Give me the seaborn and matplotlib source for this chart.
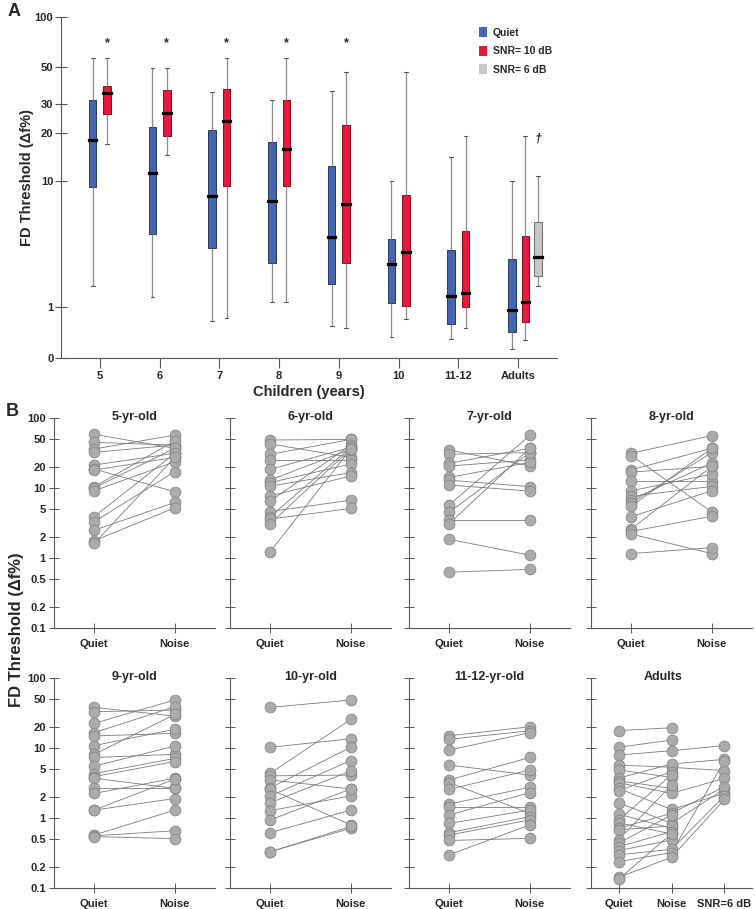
import numpy as np
import pandas as pd
import matplotlib
matplotlib.use("Agg")
import matplotlib.pyplot as plt
import matplotlib.colors as mcolors
from matplotlib.patches import Patch
from matplotlib.ticker import NullLocator
import seaborn as sns

sns.set_theme(style="white")
plt.rcParams["font.family"] = ["Liberation Sans", "DejaVu Sans"]
plt.rcParams["font.weight"] = "bold"

# ---------------- Panel A data (box summaries) ----------------
groups = ["5", "6", "7", "8", "9", "10", "11-12", "Adults"]
conditions = ["Quiet", "SNR= 10 dB", "SNR= 6 dB"]

quiet_lo = [1.66, 1.28, 0.65, 1.15, 0.555, 0.33, 0.29, 0.13]
quiet_q1 = [9.1, 4.34, 3.42, 2.61, 1.73, 1.10, 0.58, 0.43]
quiet_med = [18.1, 11.2, 8.0, 7.4, 4.15, 2.56, 1.33, 0.92]
quiet_q3 = [31.9, 21.8, 21.0, 17.5, 12.4, 3.99, 3.30, 2.81]
quiet_hi = [56.6, 49.3, 35.4, 31.8, 36.0, 9.9, 14.2, 9.9]

snr10_lo = [17.2, 14.6, 0.72, 1.15, 0.51, 0.71, 0.50, 0.275]
snr10_q1 = [26.3, 19.2, 9.2, 9.2, 2.61, 1.03, 1.00, 0.64]
snr10_med = [34.9, 26.4, 23.8, 16.0, 7.05, 3.2, 1.40, 1.15]
snr10_q3 = [38.8, 36.5, 36.9, 31.9, 22.3, 8.1, 4.59, 4.22]
snr10_hi = [56.6, 49.3, 56.6, 56.6, 46.9, 46.9, 19.2, 19.1]

nan = np.nan
snr6_lo = [nan, nan, nan, nan, nan, nan, nan, 1.66]
snr6_q1 = [nan, nan, nan, nan, nan, nan, nan, 2.03]
snr6_med = [nan, nan, nan, nan, nan, nan, nan, 2.93]
snr6_q3 = [nan, nan, nan, nan, nan, nan, nan, 5.34]
snr6_hi = [nan, nan, nan, nan, nan, nan, nan, 10.7]

sig_groups = ["5", "6", "7", "8", "9"]   # '*'
dagger_group = "Adults"                   # '†'

yticks_A = [0, 1, 10, 20, 30, 50, 100]

# ---------------- Panel B data (individual thresholds, paired) ----------------
q5 = [57.9, 44.5, 35.8, 32.1, 21.2, 18.6, 18.0, 10.4, 10.0, 9.1, 3.9, 3.3, 2.5, 1.77, 1.62]
n5 = [36.6, 40.8, 56.6, 40.8, 31.1, 8.8, 27.2, 46.5, 36.6, 23.6, 31.1, 17.0, 6.2, 5.2, 27.2]

q6 = [48.1, 42.2, 30.1, 25.0, 18.4, 12.9, 11.9, 10.6, 7.7, 6.5, 4.6, 3.9, 3.6, 3.1, 1.24]
n6 = [49.1, 27.2, 49.1, 25.0, 37.8, 35.8, 21.9, 16.5, 14.8, 40.8, 6.7, 37.8, 5.1, 35.8, 35.8]

q7 = [34.6, 30.1, 22.4, 20.5, 14.1, 12.9, 11.0, 5.7, 4.5, 3.5, 3.1, 1.85, 0.63]
n7 = [20.5, 31.8, 36.6, 25.0, 23.1, 10.4, 9.0, 56.0, 31.8, 3.5, 36.6, 1.1, 0.69]

q8 = [31.2, 28.9, 18.1, 16.8, 12.4, 9.1, 7.6, 6.8, 6.1, 5.5, 3.9, 2.6, 2.4, 2.2, 1.16]
n8 = [55.6, 4.55, 36.7, 20.2, 12.4, 15.7, 10.5, 22.5, 31.9, 36.7, 9.1, 20.2, 3.95, 1.16, 1.41]

q9 = [37.8, 32.8, 22.4, 16.5, 14.8, 10.8, 8.1, 7.3, 5.5, 4.3, 3.9, 3.7, 2.65, 2.25, 1.3, 1.3, 0.575, 0.56, 0.545]
n9 = [28.4, 34.6, 48.1, 38.6, 16.1, 18.4, 30.0, 8.1, 10.6, 7.1, 6.4, 2.65, 2.65, 3.7, 1.9, 3.6, 1.3, 0.66, 0.51]

q10 = [37.8, 10.2, 4.34, 4.0, 3.5, 2.7, 2.57, 2.07, 1.66, 1.28, 0.94, 0.62, 0.333, 0.33]
n10 = [48.1, 13.5, 25.5, 4.1, 2.6, 10.2, 0.80, 6.6, 4.7, 2.07, 2.6, 1.30, 0.715, 0.76]

q11 = [14.9, 13.3, 9.3, 5.7, 3.5, 3.2, 2.57, 1.59, 1.46, 1.11, 0.84, 0.62, 0.575, 0.48, 0.30]
n11 = [20.0, 17.5, 16.5, 4.1, 7.3, 1.17, 4.85, 2.74, 1.46, 2.30, 1.30, 1.05, 0.94, 0.515, 0.80]

qa = [17.6, 10.2, 7.9, 5.7, 4.85, 3.7, 3.4, 3.2, 2.65, 2.46, 1.66, 1.14, 0.94, 0.86,
      0.715, 0.68, 0.49, 0.44, 0.39, 0.344, 0.30, 0.24, 0.143, 0.134]
na = [19.4, 12.95, 9.13, 5.29, 3.81, 5.9, 2.65, 2.25, 1.33, 4.59, 0.84, 0.715, 4.11, 0.594,
      1.17, 0.772, 2.96, 1.107, 0.641, 0.488, 0.359, 0.322, 0.276, 0.6]
sa = [nan, nan, 10.8, 4.74, nan, 6.88, nan, 3.69, 2.25, nan, 2.6, nan, nan, nan,
      2.81, nan, nan, nan, nan, nan, 2.07, 6.58, 1.85, nan]

panelB = [
    ("5-yr-old", ["Quiet", "Noise"], [q5, n5]),
    ("6-yr-old", ["Quiet", "Noise"], [q6, n6]),
    ("7-yr-old", ["Quiet", "Noise"], [q7, n7]),
    ("8-yr-old", ["Quiet", "Noise"], [q8, n8]),
    ("9-yr-old", ["Quiet", "Noise"], [q9, n9]),
    ("10-yr-old", ["Quiet", "Noise"], [q10, n10]),
    ("11-12-yr-old", ["Quiet", "Noise"], [q11, n11]),
    ("Adults", ["Quiet", "Noise", "SNR=6 dB"], [qa, na, sa]),
]
yticks_B = [0.1, 0.2, 0.5, 1, 2, 5, 10, 20, 50, 100]
yticklabels_B = ["0.1", "0.2", "0.5", "1", "2", "5", "10", "20", "50", "100"]

# ---------------- styling ----------------
palette = {"Quiet": "#4565b0", "SNR= 10 dB": "#e8193c", "SNR= 6 dB": "#c6c6c6"}
AXC = "#555555"
W, H = 755, 909

fig = plt.figure(figsize=(W / 100, H / 100), dpi=100)

def fig_rect(x0, y0, x1, y1):
    return [x0 / W, 1 - y1 / H, (x1 - x0) / W, (y1 - y0) / H]

# ================= Panel A =================
axA = fig.add_axes(fig_rect(61, 16.7, 557, 358.3))

child_off = {"Quiet": -0.12, "SNR= 10 dB": 0.12}
adult_off = {"Quiet": -0.105, "SNR= 10 dB": 0.12, "SNR= 6 dB": 0.33}
stats_by_cond = {
    "Quiet": [quiet_lo, quiet_q1, quiet_med, quiet_q3, quiet_hi],
    "SNR= 10 dB": [snr10_lo, snr10_q1, snr10_med, snr10_q3, snr10_hi],
    "SNR= 6 dB": [snr6_lo, snr6_q1, snr6_med, snr6_q3, snr6_hi],
}
rows = []
for i, g in enumerate(groups):
    offs = adult_off if g == "Adults" else child_off
    for cond in conditions:
        five = [s[i] for s in stats_by_cond[cond]]
        if np.any(np.isnan(five)) or cond not in offs:
            continue
        for v in five:
            rows.append({"pos": i + offs[cond], "cond": cond, "value": v})
dfA = pd.DataFrame(rows)

uniq = np.unique(dfA["pos"].round(6))
box_w = 0.125 / np.min(np.diff(uniq))

sns.boxplot(
    data=dfA, x="pos", y="value", hue="cond", hue_order=conditions,
    palette=palette, native_scale=True, dodge=False, width=box_w,
    whis=(0, 100), saturation=1, linewidth=0.8, linecolor="#444444",
    fliersize=0, legend=False, ax=axA,
    medianprops={"color": "black", "linewidth": 2.3, "solid_capstyle": "projecting", "zorder": 5},
    whiskerprops={"color": "#8a8a8a", "linewidth": 0.9},
    capprops={"color": "#555555", "linewidth": 0.8},
)
for p in axA.patches:
    fc = np.array(mcolors.to_rgb(p.get_facecolor()))
    p.set_edgecolor(tuple(fc * 0.55))
    p.set_linewidth(0.7)

fwd = lambda v: np.log10(1 + np.clip(v, -0.999, None))
inv = lambda y: 10 ** y - 1
axA.set_yscale("function", functions=(fwd, inv))
axA.set_ylim(0, 100)
axA.set_xlim(-0.65, len(groups) - 1 + 0.65)
axA.set_yticks(yticks_A)
axA.set_yticklabels([str(t) for t in yticks_A])
axA.yaxis.set_minor_locator(NullLocator())
axA.set_xticks(range(len(groups)))
axA.set_xticklabels(groups)
axA.set_xlabel("Children (years)", fontsize=10.5, fontweight="bold", labelpad=3)
axA.set_ylabel("FD Threshold (Δf%)", fontsize=10.5, fontweight="bold")
axA.yaxis.set_label_coords(-0.054, 0.528)
for s in ["top", "right"]:
    axA.spines[s].set_visible(False)
for s in ["left", "bottom"]:
    axA.spines[s].set_color(AXC)
    axA.spines[s].set_linewidth(0.8)
axA.tick_params(axis="y", direction="inout", length=8, width=0.8, color=AXC,
                labelsize=8, pad=1.5, left=True)
axA.tick_params(axis="x", direction="out", length=7, width=0.8, color=AXC,
                labelsize=8, pad=2, bottom=True)

for g in sig_groups:
    i = groups.index(g)
    axA.text(i + child_off["SNR= 10 dB"], 70, "*", ha="center", va="center", fontsize=9)
ia = groups.index(dagger_group)
axA.text(ia + adult_off["SNR= 6 dB"], 18.5, "†", ha="center", va="center",
         fontsize=9, style="italic")

handles = [Patch(facecolor=palette[c], edgecolor="none", label=c) for c in conditions]
axA.legend(handles=handles, loc="upper left", bbox_to_anchor=(0.843, 0.969),
           frameon=False, fontsize=7.5, handlelength=0.75, handleheight=1.1,
           handletextpad=0.55, labelspacing=0.75, borderaxespad=0, borderpad=0)

fig.text(8 / W, 1 - 12 / H, "A", fontsize=13, fontweight="bold", ha="left", va="center")
fig.text(6 / W, 1 - 412 / H, "B", fontsize=13, fontweight="bold", ha="left", va="center")

# ================= Panel B =================
col_left = [54, 230, 409, 591]
col_w = 161
row_top = [417.7, 677.7]
row_h = 210.6

for k, (title, labels, series) in enumerate(panelB):
    r, c = divmod(k, 4)
    ax = fig.add_axes(fig_rect(col_left[c], row_top[r], col_left[c] + col_w, row_top[r] + row_h))
    recs = []
    for subj, vals in enumerate(zip(*series)):
        for j, v in enumerate(vals):
            if not np.isnan(v):
                recs.append({"subject": subj, "pos": j, "value": v})
    df = pd.DataFrame(recs)
    ax.set_yscale("log")
    sns.lineplot(data=df, x="pos", y="value", units="subject", estimator=None,
                 color="#7a7a7a", linewidth=0.6, legend=False, sort=False, ax=ax, zorder=2)
    sns.scatterplot(data=df, x="pos", y="value", color="#ababab", edgecolor="#858585",
                    linewidth=0.6, s=60, legend=False, ax=ax, zorder=3)
    n = len(labels)
    pad = 0.5 if n == 2 else 0.52
    ax.set_xlim(-pad, n - 1 + pad)
    ax.set_ylim(0.1, 100)
    ax.set_xticks(range(n))
    ax.set_xticklabels(labels)
    ax.set_yticks(yticks_B)
    ax.yaxis.set_minor_locator(NullLocator())
    if c == 0:
        ax.set_yticklabels(yticklabels_B)
    else:
        ax.set_yticklabels([])
    ax.set_xlabel("")
    ax.set_ylabel("")
    for s in ["top", "right"]:
        ax.spines[s].set_visible(False)
    for s in ["left", "bottom"]:
        ax.spines[s].set_color(AXC)
        ax.spines[s].set_linewidth(0.8)
    ax.tick_params(axis="both", direction="inout", length=7, width=0.7, color=AXC,
                   labelsize=8, left=True, bottom=True)
    ax.tick_params(axis="y", pad=2.5)
    ax.tick_params(axis="x", pad=4)
    tx = 0.446 if n == 3 else 0.5
    ax.text(tx, 1.005, title, transform=ax.transAxes, ha="center", va="center",
            fontsize=9, fontweight="bold")

fig.text(16.5 / W, 1 - 630 / H, "FD Threshold (Δf%)", rotation=90, ha="center",
         va="center", fontsize=12, fontweight="bold")

fig.savefig("out.png", dpi=100)
